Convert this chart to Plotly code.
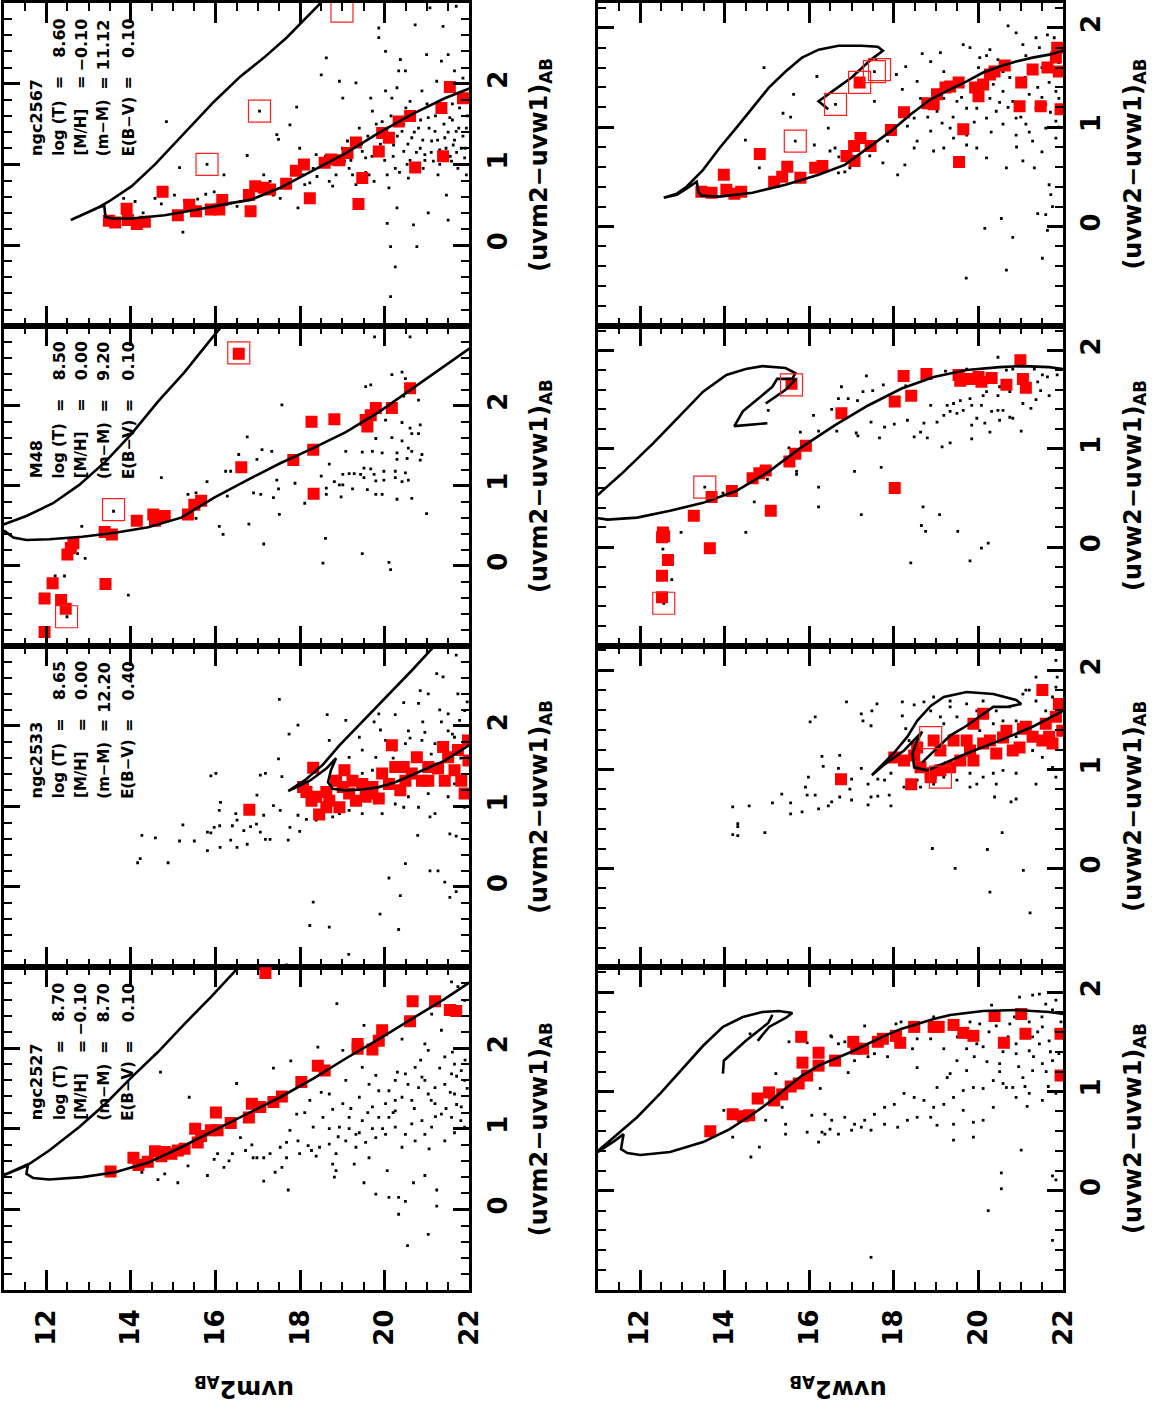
import plotly.graph_objects as go

W, H = 1167, 1409

# ---------------- text data ----------------
CLUSTERS = ["ngc2567", "M48", "ngc2533", "ngc2527"]
LOG_T = ["8.60", "8.50", "8.65", "8.70"]
MH = ["−0.10", "0.00", "0.00", "−0.10"]
DM = ["11.12", "9.20", "12.20", "8.70"]
EBV = ["0.10", "0.10", "0.40", "0.10"]
PAR_LABELS = ["log (T)", "[M/H]", "(m−M)", "E(B−V)"]
MAG_TICKS = [12, 14, 16, 18, 20, 22]
COLOR_TICKS = [0, 1, 2]
MAG_TITLES = ["uvm2<sub>AB</sub>", "uvw2<sub>AB</sub>"]
COLOR_TITLES = ["(uvm2−uvw1)<sub>AB</sub>", "(uvw2−uvw1)<sub>AB</sub>"]

# ---------------- ngc2567 (uvm2) ----------------
ngc2567_m2_iso = [(18.58,3.05),(18.15,2.82),(17.68,2.57),(17.14,2.32),(16.59,2.09),(15.97,1.78),(15.27,1.39),
    (14.57,1.00),(14.02,0.73),(13.48,0.54),(13.17,0.45),(12.85,0.37),(12.58,0.31),(12.85,0.37),(13.20,0.46),
    (13.37,0.49),(13.40,0.35),(13.55,0.33),(14.02,0.33),(14.80,0.37),(15.58,0.44),(16.36,0.52),(16.83,0.56),
    (17.53,0.71),(18.31,0.93),(19.08,1.14),(19.86,1.39),(20.64,1.62),(21.42,1.82),(22.0,1.94)]
ngc2567_m2_red = [(13.48,0.30),(13.63,0.28),(13.90,0.45),(13.93,0.31),(14.14,0.26),(14.33,0.29),(14.75,0.66),
    (15.11,0.37),(15.38,0.50),(15.54,0.42),(15.89,0.44),(16.16,0.56),(16.09,0.44),(16.83,0.42),(16.79,0.62),
    (16.94,0.73),(17.14,0.71),(17.29,0.69),(17.67,0.76),(17.90,0.92),(18.09,1.00),(18.23,0.58),(18.58,1.02),
    (18.73,1.06),(18.93,1.05),(19.12,1.14),(19.32,1.27),(19.47,0.83),(19.38,0.51),(19.86,1.16),(19.94,1.39),
    (20.10,1.33),(20.33,1.53),(20.60,1.60),(20.72,0.96),(21.34,1.70),(21.38,1.10),(21.54,1.96),(21.85,1.82)]
ngc2567_m2_open = [(15.80,1.00),(17.04,1.66),(18.99,2.90)]
ngc2567_m2_dots = [(14.84,1.53),(15.15,0.96),(15.23,0.16),(13.83,0.58),(14.10,0.54),(14.29,0.40),(14.57,0.58),
    (14.72,0.51),(15.03,0.62),(15.27,0.55),(15.58,0.57),(15.77,0.63),(15.97,0.66),(16.20,0.87),(16.36,0.52),
    (16.51,0.48),(16.75,1.11),(16.59,0.54),(16.98,0.77),(17.14,0.87),(17.29,0.79),(17.45,1.37),(17.49,1.31),
    (17.37,0.62),(17.53,0.58),(17.76,1.49),(17.92,1.71),(17.95,0.46),(17.99,1.20),(18.07,0.87),(18.11,0.75),
    (18.23,0.77),(18.31,0.95),(18.38,1.12),(18.50,2.11),(18.62,2.32),(18.69,0.79),(18.77,0.73),(18.85,0.87),
    (18.93,2.03),(19.01,1.82),(19.05,1.04),(19.12,1.29),(19.16,0.95),(19.24,0.87),(19.32,2.01),(19.32,0.75),
    (19.40,1.45),(19.47,1.16),(19.55,1.08),(19.63,0.87),(19.67,1.82),(19.71,1.66),(19.75,0.79),(19.86,2.69),
    (19.86,2.57),(19.94,1.53),(20.02,2.40),(20.02,1.91),(20.06,0.87),(20.06,0.27),(20.10,0.71),(20.14,-0.02),
    (20.14,-0.64),(20.17,1.82),(20.21,1.24),(20.25,0.95),(20.29,1.95),(20.29,0.46),(20.25,-0.27),(20.33,2.16),
    (20.37,2.30),(20.41,1.41),(20.45,1.16),(20.49,2.16),(20.53,1.00),(20.56,0.83),(20.60,1.78),(20.64,1.33),
    (20.68,0.25),(20.72,2.73),(20.76,-0.02),(20.80,1.45),(20.84,1.20),(20.88,1.91),(20.91,0.95),(20.95,1.12),
    (20.99,2.36),(21.03,0.40),(21.03,1.58),(21.07,2.94),(21.11,1.29),(21.15,1.04),(21.19,1.41),(21.23,2.03),
    (21.26,0.87),(21.30,1.18),(21.34,2.28),(21.38,2.71),(21.42,1.33),(21.46,0.62),(21.50,0.31),(21.50,2.36),
    (21.54,1.58),(21.58,1.04),(21.62,1.24),(21.65,2.16),(21.69,2.96),(21.69,1.41),(21.73,0.95),(21.77,1.70),
    (21.81,1.20),(21.85,2.07),(21.89,1.08),(21.93,1.45),(21.93,0.87),(21.96,1.82),
    (19.45,1.25),(19.60,1.35),(19.70,1.10),(19.80,1.50),(19.90,1.25),(20.00,1.05),(20.05,1.45),(20.20,1.10),
    (20.30,1.35),(20.35,0.90),(20.45,1.50),(20.55,1.25),(20.60,1.05),(20.70,1.40),(20.75,1.15),(20.85,1.55),
    (20.90,1.30),(20.95,1.05),(21.05,1.45),(21.10,1.15),(21.20,1.60),(21.25,1.30),(21.30,1.00),(21.40,1.50),
    (21.45,1.20),(21.50,1.40),(21.55,1.10),(21.60,1.55),(21.65,1.30),(21.70,1.15),(21.75,1.45),(21.80,1.00),
    (21.85,1.35),(21.90,1.20),(21.95,1.60),(19.20,1.05),(19.00,1.20),(18.80,1.00),(18.60,1.10),(18.40,0.85),
    (19.55,0.90),(20.15,1.60),(20.50,1.70),(21.00,1.75),(21.60,1.75),(15.80,1.00),(17.04,1.66)]

# ---------------- M48 (uvm2) ----------------
m48_m2_iso = [(16.30,3.05),(16.16,3.0),(15.89,2.83),(15.27,2.42),(14.64,2.05),(14.02,1.65),(13.40,1.30),
    (12.78,1.01),(12.16,0.78),(11.53,0.62),(11.02,0.52),(10.9,0.50),(10.9,0.42),(11.02,0.43),(11.22,0.35),
    (11.53,0.32),(12.07,0.33),(12.85,0.36),(13.63,0.41),(14.41,0.48),(15.19,0.60),(15.97,0.85),(16.75,1.07),
    (17.53,1.28),(18.31,1.47),(19.08,1.67),(19.86,1.92),(20.64,2.21),(21.42,2.50),(21.96,2.71),(22.12,2.76)]
m48_m2_red = [(11.96,-0.83),(11.96,-0.41),(12.15,-0.22),(12.35,-0.43),(12.46,-0.54),(12.50,0.14),(12.64,0.28),
    (12.58,0.22),(13.40,-0.23),(13.38,0.42),(13.55,0.39),(14.14,0.56),(14.53,0.64),(14.57,0.56),(14.80,0.62),
    (15.35,0.64),(15.50,0.76),(15.66,0.81),(16.55,2.65),(16.61,1.23),(17.84,1.32),(18.27,1.80),(18.31,1.45),
    (18.32,0.90),(18.81,1.83),(19.55,1.82),(19.59,1.74),(19.67,1.88),(19.79,1.97),(20.17,1.97),(20.60,2.22)]
m48_m2_open = [(16.55,2.66),(13.59,0.70),(12.48,-0.64)]
m48_m2_dots = [(19.76,2.86),(20.60,2.86),(20.41,2.42),(20.17,2.39),(20.49,2.34),(19.55,2.24),(19.67,2.26),
    (20.45,2.12),(20.80,2.07),(17.57,2.01),(16.75,1.61),(19.79,1.59),(20.17,1.60),(20.41,1.56),(20.60,1.72),
    (20.84,1.76),(20.80,1.65),(20.64,1.65),(20.02,1.82),(20.41,1.79),(17.10,1.45),(17.33,1.43),(16.55,1.39),
    (16.98,1.33),(19.08,1.43),(19.47,1.42),(19.71,1.43),(19.94,1.41),(20.29,1.41),(20.56,1.47),(20.88,1.39),
    (20.84,1.32),(20.53,1.34),(20.29,1.33),(16.24,1.18),(16.36,1.18),(18.69,1.27),(19.01,1.14),(19.16,1.15),
    (19.28,1.15),(19.51,1.22),(19.67,1.21),(19.43,1.14),(19.75,1.14),(19.98,1.18),(20.25,1.18),(20.49,1.16),
    (18.50,1.12),(18.81,1.05),(19.01,1.01),(19.51,1.10),(19.79,1.06),(19.98,1.07),(20.25,1.10),(20.56,1.07),
    (20.41,1.05),(14.72,1.10),(15.80,1.05),(17.45,1.07),(18.62,0.97),(18.93,1.01),(19.24,0.96),(19.59,0.95),
    (19.94,0.89),(19.79,0.89),(20.29,0.83),(20.64,0.84),(15.54,0.91),(15.35,0.89),(16.28,0.87),(16.90,0.91),
    (17.07,0.89),(17.37,0.85),(17.49,0.96),(18.97,0.86),(18.62,0.89),(20.99,0.65),(18.11,0.78),(17.51,0.64),
    (16.79,0.52),(16.09,0.49),(16.18,0.39),(15.54,0.59),(12.84,0.49),(12.74,0.15),(12.92,0.09),(17.14,0.27),
    (18.60,0.34),(19.47,0.15),(18.54,0.03),(20.10,0.04),(20.14,-0.05),(12.21,-0.13),(12.43,-0.13),
    (13.94,-0.37),(12.49,-0.64),(13.59,0.68),(17.88,1.03),(20.64,1.43),(16.55,2.66)]

# ---------------- ngc2533 (uvm2) ----------------
ngc2533_m2_iso = [(21.30,3.06),(21.15,2.98),(20.64,2.69),(20.10,2.40),(19.47,2.05),(18.93,1.76),(18.54,1.52),
    (18.15,1.34),(17.72,1.19),(18.23,1.32),(18.62,1.47),(18.85,1.60),(18.73,1.45),(18.66,1.30),(18.77,1.22),
    (19.08,1.20),(19.47,1.21),(19.86,1.24),(20.25,1.30),(20.64,1.39),(21.03,1.47),(21.42,1.57),(21.96,1.75),
    (22.12,1.80)]
ngc2533_m2_red = [(16.80,0.96),(18.45,0.90),(18.31,1.48),(18.15,1.18),(18.27,1.07),(18.38,1.12),(18.62,1.18),
    (18.69,1.07),(18.93,0.99),(19.05,1.45),(19.16,1.16),(19.32,1.07),(19.47,1.28),(19.63,1.16),(19.86,1.10),
    (19.94,1.41),(20.17,1.76),(20.25,1.49),(20.37,1.20),(20.49,1.32),(20.64,1.41),(20.76,1.61),(20.88,1.32),
    (21.03,1.49),(21.26,1.47),(21.38,1.74),(21.50,1.61),(21.65,1.45),(21.81,1.32),(21.89,1.16),(21.97,1.82),
    (21.73,1.70),(20.45,1.49),(20.10,1.28),(19.71,1.24),(19.24,1.32),(18.85,1.32),(19.01,1.24),(18.07,1.24),
    (19.55,1.12),(18.62,0.99),(21.03,1.32),(21.42,1.32),(21.98,1.57)]
ngc2533_m2_open = []
ngc2533_m2_dots = [(17.51,2.33),(17.95,2.01),(17.74,1.90),(17.49,1.59),(17.57,1.37),(17.18,1.41),(17.06,1.39),
    (15.89,1.38),(16.01,1.41),(18.64,2.14),(19.08,2.07),(18.69,1.82),(19.86,2.15),(19.75,2.05),(20.25,2.14),
    (20.45,2.29),(20.80,2.28),(20.84,2.44),(21.03,2.40),(21.23,2.65),(21.38,2.61),(21.69,2.88),(21.73,2.40),
    (21.89,2.19),(21.77,2.07),(20.56,1.94),(20.95,1.92),(21.34,2.05),(21.50,1.94),(21.65,1.86),(19.47,1.70),
    (19.79,1.61),(20.25,1.70),(20.88,1.82),(21.19,1.78),(20.49,1.78),(20.02,1.82),(19.40,1.86),(19.16,1.61),
    (19.47,1.41),(19.71,1.45),(20.56,1.12),(20.80,0.99),(21.03,1.16),(21.19,0.91),(21.50,1.12),(21.65,1.28),
    (21.89,0.99),(20.45,0.99),(20.25,1.03),(19.94,0.91),(19.47,0.91),(19.16,0.95),(18.93,0.91),(18.77,0.87),
    (18.38,0.83),(18.15,0.84),(17.95,0.89),(17.76,0.74),(17.99,0.69),(17.72,0.58),(17.53,0.95),(17.37,1.01),
    (17.14,0.89),(16.98,1.14),(16.97,0.78),(16.83,0.75),(16.67,0.70),(16.51,0.83),(16.48,0.91),(16.36,0.58),
    (16.40,0.76),(16.51,0.49),(16.12,1.05),(16.09,0.95),(16.10,0.76),(15.97,0.74),(15.81,0.68),(15.81,0.45),
    (15.50,0.57),(15.15,0.57),(15.23,0.77),(14.58,0.61),(14.26,0.64),(14.22,0.35),(14.16,0.30),(14.88,0.30),
    (17.29,0.59),(17.18,0.59),(17.06,0.68),(16.75,0.53),(16.11,0.49),(15.89,0.67),(20.78,0.64),(21.54,0.66),
    (21.69,0.63),(21.07,0.87),(21.07,0.20),(21.26,0.20),(20.49,0.29),(20.10,0.11),(20.37,-0.11),(21.42,0.06),
    (21.54,-0.13),(21.69,-0.06),(18.31,-0.19),(18.23,-0.48),(18.69,-0.50),(19.89,-0.34),(20.33,-0.53),
    (19.15,-0.84),(17.68,-0.97),(20.20,1.60),(20.60,1.85),(21.10,1.65),(21.60,1.90),(21.80,1.60),(20.90,2.05),
    (19.90,1.95),(21.30,2.20),(21.95,2.30),(21.50,2.15)]

# ---------------- ngc2527 (uvm2) ----------------
ngc2527_m2_iso = [(16.67,3.09),(16.51,2.98),(15.89,2.63),(15.27,2.30),(14.64,1.95),(14.02,1.64),(13.40,1.31),
    (12.78,1.02),(12.07,0.73),(11.53,0.54),(11.02,0.43),(10.9,0.40),(10.9,0.43),(11.06,0.44),(11.57,0.56),
    (11.53,0.44),(11.69,0.39),(12.07,0.37),(12.85,0.40),(13.63,0.46),(14.41,0.58),(15.19,0.77),(15.97,0.98),
    (16.75,1.18),(17.53,1.39),(18.31,1.62),(19.08,1.87),(19.86,2.11),(20.64,2.36),(21.42,2.61),(22.0,2.81),
    (22.12,2.85)]
ngc2527_m2_red = [(13.52,0.47),(14.06,0.64),(14.18,0.55),(14.40,0.59),(14.57,0.72),(14.72,0.66),(14.80,0.71),
    (14.96,0.69),(15.11,0.73),(15.27,0.75),(15.52,1.00),(15.58,0.83),(15.66,0.91),(15.89,0.98),(16.01,1.20),
    (16.05,0.98),(16.36,1.07),(16.79,1.14),(16.86,1.31),(17.06,1.27),(17.37,1.33),(17.57,1.40),(18.03,1.58),
    (18.42,1.78),(18.58,1.72),(19.36,2.05),(19.36,1.99),(19.71,1.98),(19.86,2.09),(19.94,2.22),(20.60,2.33),
    (20.66,2.58),(21.19,2.58),(21.54,2.47),(21.69,2.46),(17.18,2.93)]
ngc2527_m2_open = []
ngc2527_m2_dots = [(14.70,1.70),(15.38,1.39),(16.50,1.56),(17.37,1.75),(17.78,1.84),(18.87,2.55),(18.42,2.01),
    (19.01,1.97),(19.51,2.28),(20.41,2.11),(20.95,2.05),(21.03,1.97),(21.34,2.22),(21.11,2.42),(21.58,2.82),
    (21.73,2.76),(21.89,2.59),(21.42,1.89),(21.65,1.80),(21.81,1.72),(20.72,1.76),(20.49,1.68),(20.25,1.60),
    (20.10,1.47),(19.79,1.66),(19.47,1.76),(19.63,1.55),(19.08,1.60),(18.69,1.43),(18.50,1.45),(18.23,1.35),
    (18.11,1.20),(17.92,1.18),(17.76,0.98),(17.68,0.83),(17.95,0.85),(18.19,0.79),(18.31,1.02),(18.54,1.14),
    (18.77,1.24),(19.01,1.31),(19.16,1.14),(19.32,0.93),(19.47,1.10),(19.71,1.27),(19.86,1.14),(20.02,1.31),
    (20.25,1.22),(20.41,1.39),(20.64,1.35),(20.80,1.51),(21.03,1.43),(21.19,1.31),(21.42,1.55),(21.65,1.43),
    (21.81,1.27),(21.89,1.60),(21.89,1.02),(21.58,1.14),(21.34,1.18),(21.11,1.02),(20.88,1.10),(20.64,1.06),
    (20.49,0.93),(20.25,1.02),(20.02,0.93),(19.79,0.89),(19.55,0.83),(19.32,0.77),(19.08,0.85),(18.85,0.69),
    (18.69,0.81),(18.46,0.77),(18.38,0.66),(18.77,0.56),(19.28,0.56),(19.63,0.64),(20.06,0.48),(20.41,0.77),
    (20.72,0.85),(20.95,0.93),(21.42,0.85),(18.81,0.40),(18.85,0.48),(19.51,0.33),(19.79,0.19),(20.10,0.15),
    (20.33,0.15),(20.49,0.10),(20.68,0.33),(20.95,0.42),(21.23,0.24),(21.23,0.04),(20.33,-0.06),(21.03,-0.31),
    (20.54,-0.45),(18.27,0.73),(17.99,0.69),(17.68,0.64),(17.53,0.77),(17.29,0.69),(17.14,0.64),(16.98,0.64),
    (16.86,0.80),(16.71,0.73),(16.40,0.69),(16.32,0.60),(16.20,0.52),(16.05,0.69),(15.97,0.62),(15.81,0.42),
    (15.35,0.54),(15.11,0.33),(14.64,0.37),(14.80,0.44),(14.26,0.46),(17.14,0.35),(17.72,0.24),(17.41,0.46),
    (17.57,0.52),(16.59,0.89),(16.89,0.64),(18.69,1.00),(18.93,1.02),(19.16,1.00),(19.71,1.00),(20.10,1.14),
    (20.88,1.64),(21.19,1.51),(21.58,1.68),(19.86,1.47),(19.40,1.39),(20.25,1.35),
    (20.30,1.70),(20.55,1.55),(20.70,1.25),(20.95,1.60),(21.10,1.35),(21.30,1.75),(21.45,1.25),(21.55,1.45),
    (21.70,1.65),(21.80,1.10),(21.95,1.50),(21.70,1.30),(21.20,1.15),(20.85,1.85),(21.60,1.95),(21.90,1.85),
    (20.20,1.20),(19.95,1.00),(19.60,1.20),(19.40,0.95),(18.90,0.90),(19.20,1.25),(21.05,0.75),(21.65,0.95)]

# ---------------- ngc2567 (uvw2) ----------------
ngc2567_w2_iso = [(16.45,1.18),(16.22,1.26),(16.61,1.38),(17.00,1.50),(17.46,1.68),(17.74,1.77),(17.62,1.81),
    (17.23,1.82),(16.69,1.82),(16.22,1.78),(15.83,1.70),(15.44,1.56),(15.05,1.40),(14.66,1.19),(14.27,0.99),
    (13.88,0.79),(13.49,0.57),(13.10,0.40),(12.87,0.33),(12.56,0.29),(12.87,0.32),(13.10,0.38),(13.34,0.45),
    (13.38,0.35),(13.45,0.31),(13.88,0.30),(14.66,0.34),(15.44,0.42),(16.22,0.52),(16.84,0.62),(17.39,0.79),
    (17.93,0.96),(18.40,1.13),(18.87,1.28),(19.33,1.38),(19.72,1.46),(20.11,1.55),(20.50,1.61),(20.89,1.66),
    (21.28,1.70),(21.67,1.73),(22.0,1.77)]
ngc2567_w2_red = [(13.45,0.35),(13.69,0.34),(13.98,0.52),(14.04,0.37),(14.23,0.33),(14.39,0.35),(14.83,0.73),
    (15.17,0.45),(15.36,0.50),(15.48,0.60),(15.79,0.49),(16.14,0.59),(16.31,0.61),(16.88,0.71),(17.07,0.66),
    (17.06,0.81),(17.21,0.89),(17.45,0.81),(17.93,0.97),(18.24,1.15),(18.79,1.24),(18.94,1.23),(19.02,1.33),
    (19.22,1.40),(19.33,1.41),(19.53,1.45),(19.54,0.65),(19.64,0.98),(19.92,1.40),(20.00,1.31),(20.11,1.43),
    (20.27,1.53),(20.38,1.56),(20.62,1.62),(21.01,1.45),(20.97,1.21),(21.28,1.58),(21.47,1.21),(21.63,1.60),
    (21.83,1.70),(21.86,1.80),(21.90,1.56),(21.94,1.18),(17.19,1.45)]
ngc2567_w2_open = [(15.67,0.86),(16.62,1.23),(17.19,1.45),(17.54,1.56),(17.66,1.58)]
ngc2567_w2_dots = [(14.93,1.60),(14.49,0.87),(14.82,0.59),(15.38,1.14),(15.56,1.10),(15.63,1.33),(16.18,1.51),
    (16.12,0.82),(16.45,0.99),(16.49,0.76),(16.61,0.79),(16.70,0.70),(16.84,0.55),(16.69,0.54),(16.96,0.59),
    (17.54,1.26),(17.43,0.71),(17.74,0.64),(17.85,0.86),(17.58,1.68),(18.06,1.53),(18.28,1.61),(18.20,1.38),
    (18.32,1.01),(18.48,1.09),(18.55,1.46),(18.67,1.74),(18.87,1.66),(19.10,1.75),(19.18,1.56),(19.14,1.04),
    (19.33,0.99),(19.41,0.89),(19.72,0.92),(19.64,1.83),(19.80,1.80),(20.03,1.70),(20.19,1.72),(20.27,1.78),
    (20.46,1.68),(20.58,1.56),(20.70,2.02),(20.89,1.95),(21.05,1.83),(21.12,1.72),(21.36,1.90),(21.44,1.80),
    (21.63,1.93),(21.79,1.90),(21.83,1.80),(20.58,1.36),(20.81,1.26),(21.20,1.33),(21.40,1.40),(21.67,1.45),
    (21.83,1.36),(21.90,1.29),(19.96,1.19),(20.19,1.09),(20.42,1.16),(20.58,1.03),(20.89,1.09),(21.12,1.03),
    (21.28,0.86),(21.59,0.99),(21.83,1.06),(21.83,0.89),(20.66,0.59),(21.05,0.66),(21.32,0.59),(20.19,0.69),
    (19.96,0.79),(19.72,0.82),(19.18,0.79),(18.94,0.76),(18.55,0.86),(18.48,0.79),(18.87,0.96),(19.02,1.16),
    (19.49,1.26),(19.72,1.19),(20.27,1.29),(20.89,0.92),(21.67,0.42),(21.71,0.32),(21.75,0.20),(21.59,0.12),
    (21.40,0.13),(20.54,0.08),(20.15,-0.02),(20.81,-0.11),(21.51,-0.32),(20.66,-0.44),(19.71,-0.52),
    (21.63,-0.04),(18.09,0.52),(18.26,0.62),(18.63,1.29),(18.13,1.18),(19.18,1.29),(21.36,1.19),(21.59,1.23),
    (20.35,1.43),(20.74,1.50),(19.40,1.10),(19.90,1.05),(20.30,0.95),(20.70,1.20),(21.00,1.10),(21.20,0.95),
    (21.50,1.30),(21.70,1.15),(21.90,1.00),(20.00,1.60),(20.50,1.25),(21.10,1.50),(21.50,1.60),(21.90,1.65),
    (19.60,1.30),(18.80,1.10),(20.90,0.80),(21.50,0.75),(15.67,0.86),(16.62,1.23),(17.54,1.56)]

# ---------------- M48 (uvw2) ----------------
m48_w2_iso = [(10.92,0.51),(11.00,0.53),(11.55,0.74),(12.32,1.06),(12.95,1.34),(13.49,1.58),(14.04,1.75),
    (14.50,1.81),(14.89,1.84),(15.44,1.82),(15.67,1.77),(15.60,1.71),(15.24,1.71),(15.13,1.63),(14.74,1.49),
    (14.43,1.38),(14.23,1.23),(15.01,1.26),(None,None),(15.69,1.71),(15.44,1.60),(14.97,1.46),(None,None),
    (10.92,0.30),(11.23,0.28),(11.93,0.30),(12.71,0.37),(13.49,0.45),(14.27,0.57),(15.05,0.77),(15.83,1.02),
    (16.61,1.24),(17.39,1.44),(18.17,1.61),(18.94,1.73),(19.72,1.80),(20.50,1.83),(21.05,1.84),(21.67,1.83),
    (22.0,1.81)]
m48_w2_red = [(12.52,-0.51),(12.52,-0.29),(12.66,-0.13),(12.54,0.15),(12.57,0.11),(12.52,0.10),(13.27,0.32),
    (13.65,-0.01),(13.69,0.51),(14.17,0.57),(14.66,0.70),(14.82,0.75),(14.97,0.78),(15.09,0.37),(15.53,0.87),
    (15.67,0.95),(15.92,1.03),(15.58,1.66),(16.76,1.36),(18.02,1.48),(18.02,0.60),(18.23,1.74),(18.41,1.54),
    (18.77,1.76),(19.53,1.75),(19.57,1.69),(19.80,1.71),(20.00,1.73),(20.07,1.68),(20.31,1.72),(20.66,1.65),
    (20.99,1.90),(21.05,1.71),(21.12,1.62)]
m48_w2_open = [(15.58,1.65),(13.53,0.61),(12.56,-0.57)]
m48_w2_dots = [(20.46,1.93),(19.72,1.81),(19.22,1.79),(18.79,1.76),(20.66,1.80),(20.81,1.81),(21.32,1.81),
    (21.63,1.73),(21.40,1.68),(20.50,1.63),(20.19,1.58),(20.11,1.54),(20.46,1.54),(20.74,1.58),(21.47,1.59),
    (21.67,1.54),(21.36,1.50),(20.31,1.38),(20.46,1.39),(20.58,1.39),(20.07,1.44),(19.80,1.51),(19.84,1.44),
    (19.57,1.49),(19.41,1.46),(19.26,1.44),(19.33,1.38),(19.18,1.34),(19.02,1.27),(19.49,1.36),(19.64,1.39),
    (19.96,1.31),(19.84,1.24),(20.15,1.26),(20.74,1.32),(20.81,1.31),(21.01,1.18),(21.24,1.41),(20.27,1.17),
    (19.84,1.10),(19.33,1.06),(19.14,1.02),(18.79,1.11),(18.63,1.17),(18.48,1.12),(18.71,1.26),(18.87,1.44),
    (18.32,1.29),(18.28,1.64),(18.01,1.25),(17.78,1.22),(17.66,1.11),(17.46,1.27),(17.75,1.65),(17.50,1.59),
    (17.27,1.58),(17.35,1.74),(17.14,1.49),(16.76,1.63),(16.92,1.51),(16.69,1.51),(16.53,1.40),(16.65,1.18),
    (16.22,1.18),(16.10,1.34),(15.79,1.17),(15.52,1.01),(17.11,1.16),(17.15,1.13),(17.70,0.81),(17.07,0.77),
    (16.22,0.61),(16.22,0.41),(15.70,0.77),(15.70,0.74),(15.01,0.69),(14.70,0.46),(14.50,0.15),(13.96,0.55),
    (12.97,0.15),(12.54,-0.02),(12.75,-0.33),(12.56,-0.57),(17.23,0.33),(18.69,0.41),(19.08,0.33),(18.65,0.22),
    (18.75,0.16),(19.51,0.16),(20.23,0.04),(20.07,-0.01),(19.80,-0.14),(18.40,-0.16),(15.03,1.39),(20.50,1.29),
    (21.05,1.46),(21.51,1.75),(21.86,1.75),(13.53,0.61)]

# ---------------- ngc2533 (uvw2) ----------------
ngc2533_w2_iso = [(18.67,1.07),(18.79,1.12),(19.02,1.22),(19.33,1.34),(19.72,1.44),(20.11,1.56),(20.35,1.63),
    (20.66,1.63),(21.01,1.66),(20.89,1.70),(20.35,1.76),(19.72,1.78),(19.18,1.73),(18.87,1.64),(18.55,1.49),
    (18.32,1.33),(18.01,1.17),(17.48,0.94),(17.78,1.05),(18.24,1.19),(18.67,1.38),(18.55,1.29),(18.44,1.16),
    (18.48,1.02),(18.79,0.99),(19.18,1.06),(19.72,1.16),(20.50,1.29),(21.28,1.43),(22.0,1.59)]
ngc2533_w2_red = [(16.75,0.90),(18.41,0.85),(18.01,1.12),(18.24,1.09),(18.48,1.14),(18.63,1.02),(18.87,0.96),
    (18.87,0.92),(19.10,0.99),(19.33,1.02),(19.57,1.09),(19.80,1.19),(19.88,1.09),(20.11,1.26),(20.11,1.56),
    (20.27,1.29),(20.42,1.16),(20.58,1.32),(20.81,1.19),(20.97,1.22),(21.05,1.41),(21.28,1.33),(21.51,1.80),
    (21.59,1.46),(21.67,1.33),(21.83,1.53),(21.90,1.66),(21.98,1.39),(18.94,1.29),(19.10,1.19),(19.41,1.29),
    (19.72,1.29),(19.88,1.46),(18.55,1.22),(20.66,1.39),(21.12,1.43),(21.51,1.29),(21.75,1.26)]
ngc2533_w2_open = [(18.87,1.32),(19.10,0.92)]
ngc2533_w2_dots = [(16.88,1.68),(17.60,1.66),(17.48,1.59),(17.23,1.56),(17.27,1.49),(17.46,1.44),(16.14,1.53),
    (16.02,1.48),(18.20,1.68),(18.48,1.65),(18.71,1.68),(18.94,1.73),(18.20,1.54),(18.28,1.41),(18.36,1.29),
    (18.87,1.59),(19.10,1.53),(19.18,1.46),(19.33,1.63),(19.49,1.53),(19.72,1.66),(19.96,1.59),(20.11,1.69),
    (20.42,1.59),(20.58,1.49),(20.74,1.63),(20.89,1.49),(21.05,1.76),(21.20,1.80),(21.36,1.69),(21.59,1.59),
    (21.75,1.73),(21.83,1.83),(21.86,1.93),(21.83,2.10),(21.36,1.93),(21.12,1.80),(20.35,1.46),(20.03,1.39),
    (20.89,1.33),(21.28,1.19),(21.51,1.12),(21.75,1.02),(21.83,0.92),(21.36,0.85),(20.89,0.96),(20.58,0.99),
    (20.35,0.96),(20.11,0.92),(19.80,0.96),(19.49,0.89),(19.18,0.92),(18.94,0.85),(18.63,0.82),(18.24,0.82),
    (17.93,0.96),(17.78,0.89),(17.62,0.90),(17.39,0.85),(17.23,1.01),(17.00,0.90),(16.96,0.80),(16.72,1.14),
    (16.30,1.13),(16.33,1.03),(16.69,1.01),(16.72,0.72),(16.53,0.67),(16.45,0.63),(16.22,0.60),(15.83,0.57),
    (15.56,0.55),(15.56,0.66),(15.35,0.75),(15.13,0.66),(14.58,0.63),(14.19,0.62),(14.31,0.45),(14.31,0.42),
    (14.19,0.34),(14.31,0.33),(14.95,0.36),(15.95,0.74),(15.91,0.82),(15.98,0.92),(16.14,0.74),(17.00,0.69),
    (17.39,0.64),(17.46,0.72),(17.62,0.73),(17.89,0.74),(17.93,0.63),(18.55,0.89),(19.96,0.85),(20.42,0.85),
    (20.77,0.67),(20.89,0.70),(20.38,0.72),(19.80,0.82),(18.91,0.20),(20.21,0.19),(20.56,0.36),(19.45,0.00),
    (21.06,-0.02),(20.27,-0.24),(21.22,-0.45),(19.33,1.69)]

# ---------------- ngc2527 (uvw2) ----------------
ngc2527_w2_iso = [(14.78,1.51),(15.05,1.65),(15.44,1.74),(15.60,1.79),(15.28,1.81),(14.89,1.80),(14.43,1.75),
    (13.96,1.65),(13.49,1.46),(13.02,1.24),(12.48,0.98),(11.93,0.74),(11.39,0.54),(11.00,0.40),(10.88,0.38),
    (11.00,0.39),(11.39,0.50),(11.61,0.57),(11.55,0.42),(11.70,0.38),(12.01,0.36),(12.71,0.39),(13.49,0.49),
    (14.12,0.62),(14.66,0.77),(15.05,0.89),(15.44,1.03),(15.83,1.16),(16.22,1.26),(16.61,1.33),(17.00,1.40),
    (17.39,1.48),(17.78,1.56),(18.17,1.63),(18.55,1.68),(18.94,1.73),(19.33,1.77),(20.11,1.81),(20.89,1.82),
    (21.67,1.80),(22.0,1.78),(None,None),(15.13,1.77),(15.03,1.69),(14.50,1.51),(13.98,1.31),(13.96,1.18)]
ngc2527_w2_red = [(13.66,0.60),(14.19,0.77),(14.43,0.75),(14.58,0.76),(14.78,0.93),(15.05,0.99),(15.17,0.91),
    (15.36,0.97),(15.56,1.05),(15.75,1.08),(15.81,1.55),(15.84,1.29),(15.95,1.16),(16.22,1.39),(16.22,1.26),
    (16.61,1.31),(17.04,1.50),(17.11,1.43),(17.27,1.43),(17.62,1.50),(17.74,1.53),(18.05,1.56),(18.15,1.49),
    (18.48,1.65),(18.94,1.65),(19.06,1.65),(19.41,1.67),(19.64,1.59),(19.88,1.56),(20.38,1.76),(20.60,1.49),
    (21.01,1.78),(21.11,1.58),(21.94,1.58),(21.94,1.16)]
ngc2527_w2_open = []
ngc2527_w2_dots = [(14.60,1.58),(15.52,1.50),(15.95,1.49),(16.51,1.56),(16.53,1.55),(17.31,1.66),(18.05,1.68),
    (18.17,1.70),(18.94,1.75),(20.31,1.87),(20.97,1.95),(21.28,1.97),(21.44,1.98),(21.59,1.88),(21.75,1.82),
    (19.80,1.70),(20.03,1.68),(20.42,1.66),(20.74,1.68),(21.20,1.70),(21.51,1.65),(21.83,1.61),(21.67,1.51),
    (21.44,1.48),(21.20,1.41),(20.89,1.38),(20.58,1.40),(20.11,1.45),(19.96,1.48),(19.72,1.43),(19.49,1.31),
    (19.18,1.43),(18.87,1.53),(18.55,1.53),(18.44,1.43),(18.24,1.48),(17.85,1.35),(17.54,1.38),(17.39,1.35),
    (17.07,1.31),(16.92,1.19),(16.84,1.50),(16.69,1.48),(16.26,1.03),(16.06,0.76),(16.37,0.77),(16.53,0.71),
    (16.84,0.74),(17.07,0.67),(17.31,0.71),(17.54,0.77),(17.78,0.84),(18.01,0.87),(18.24,0.98),(18.48,0.94),
    (18.71,0.91),(18.94,0.84),(19.18,0.87),(19.41,0.94),(19.64,1.01),(19.88,1.04),(20.11,1.03),(20.35,1.11),
    (20.58,1.08),(20.81,1.04),(21.05,1.14),(21.28,1.21),(21.51,1.28),(21.75,1.31),(21.90,1.38),(21.83,0.98),
    (21.51,0.91),(21.20,0.98),(20.89,0.94),(20.66,1.04),(20.35,0.84),(20.11,0.71),(19.88,0.69),(19.64,0.81),
    (19.41,0.67),(19.02,0.66),(18.87,0.74),(18.55,0.74),(18.32,0.71),(18.09,0.64),(17.78,0.67),(17.46,0.61),
    (17.23,0.64),(17.00,0.61),(16.69,0.57),(16.37,0.57),(16.22,0.49),(15.95,0.59),(15.44,0.67),(15.36,0.84),
    (15.21,1.18),(14.97,0.71),(14.82,0.44),(14.62,0.34),(14.19,0.54),(13.98,0.81),(15.44,0.57),(16.30,0.59),
    (16.49,0.62),(19.41,0.51),(19.88,0.54),(21.01,0.41),(20.54,0.18),(20.54,0.02),(21.75,0.15),(21.83,0.11),
    (20.23,-0.20),(21.75,-0.50),(17.46,-0.67),(18.55,1.24),(19.33,1.18),(19.72,1.21),(20.50,1.28),(20.89,1.48),
    (21.28,1.55),(21.83,1.92),(19.02,1.04),(19.26,1.14),(20.20,1.30),(20.50,1.20),(20.70,1.55),(20.95,1.25),
    (21.10,1.05),(21.30,1.35),(21.40,1.60),(21.60,1.20),(21.70,1.40),(21.90,1.15),(21.95,1.70),(21.50,1.75),
    (20.85,1.75),(20.25,1.60),(19.90,1.35),(19.50,1.55),(21.15,0.85),(21.65,1.05)]

# ---------------- layout geometry ----------------
COL_PX = [(4, 475), (605, 1076)]
ROW_PX = [(2, 325), (325, 645), (645, 967), (967, 1290)]
COLOR_RANGE = [[-1, 3], [-1, 2.25]]
MAG_RANGE = [11, 22]

PANELS = [
    (0, 0, ngc2567_m2_dots, ngc2567_m2_red, ngc2567_m2_open, ngc2567_m2_iso),
    (1, 0, m48_m2_dots, m48_m2_red, m48_m2_open, m48_m2_iso),
    (2, 0, ngc2533_m2_dots, ngc2533_m2_red, ngc2533_m2_open, ngc2533_m2_iso),
    (3, 0, ngc2527_m2_dots, ngc2527_m2_red, ngc2527_m2_open, ngc2527_m2_iso),
    (0, 1, ngc2567_w2_dots, ngc2567_w2_red, ngc2567_w2_open, ngc2567_w2_iso),
    (1, 1, m48_w2_dots, m48_w2_red, m48_w2_open, m48_w2_iso),
    (2, 1, ngc2533_w2_dots, ngc2533_w2_red, ngc2533_w2_open, ngc2533_w2_iso),
    (3, 1, ngc2527_w2_dots, ngc2527_w2_red, ngc2527_w2_open, ngc2527_w2_iso),
]

FONT = "DejaVu Sans"


def unzip(pairs):
    return [p[0] for p in pairs], [p[1] for p in pairs]


fig = go.Figure()
layout = dict(width=W, height=H, margin=dict(l=0, r=0, t=0, b=0),
              paper_bgcolor="white", plot_bgcolor="white", showlegend=False)

for k, (r, c, dots, red, opn, iso) in enumerate(PANELS):
    n = k + 1
    xs = "x" if n == 1 else f"x{n}"
    ys = "y" if n == 1 else f"y{n}"
    xname = "xaxis" if n == 1 else f"xaxis{n}"
    yname = "yaxis" if n == 1 else f"yaxis{n}"

    dx, dy = unzip(dots)
    fig.add_trace(go.Scatter(x=dx, y=dy, mode="markers", xaxis=xs, yaxis=ys,
                             marker=dict(symbol="square", size=2.8, color="black", line=dict(width=0))))
    rx, ry = unzip(red)
    fig.add_trace(go.Scatter(x=rx, y=ry, mode="markers", xaxis=xs, yaxis=ys,
                             marker=dict(symbol="square", size=12, color="#ff0000", line=dict(width=0))))
    ix, iy = unzip(iso)
    fig.add_trace(go.Scatter(x=ix, y=iy, mode="lines", xaxis=xs, yaxis=ys,
                             line=dict(color="black", width=2.6), connectgaps=False))
    if opn:
        ox, oy = unzip(opn)
        fig.add_trace(go.Scatter(x=ox, y=oy, mode="markers", xaxis=xs, yaxis=ys,
                                 marker=dict(symbol="square-open", size=22, color="#ff2020",
                                             line=dict(width=1.2))))

    x0, x1 = COL_PX[c]
    y0, y1 = ROW_PX[r]
    layout[xname] = dict(
        domain=[x0 / W, x1 / W], range=MAG_RANGE, anchor=ys,
        showline=True, linecolor="black", linewidth=3, mirror="allticks",
        ticks="inside", ticklen=20, tickwidth=3, tickcolor="black",
        tickmode="array", tickvals=MAG_TICKS,
        minor=dict(tickmode="linear", tick0=0, dtick=0.5, ticks="inside", ticklen=8,
                   tickwidth=2, tickcolor="black", showgrid=False),
        showgrid=False, zeroline=False, showticklabels=(r == 3), tickangle=-90,
        ticklabelstandoff=6,
        tickfont=dict(family=FONT, size=26, color="black", weight="bold"))
    layout[yname] = dict(
        domain=[1 - y1 / H, 1 - y0 / H], range=COLOR_RANGE[c], anchor=xs, side="right",
        showline=True, linecolor="black", linewidth=3, mirror="allticks",
        ticks="inside", ticklen=16, tickwidth=3, tickcolor="black",
        tickmode="array", tickvals=COLOR_TICKS,
        minor=dict(tickmode="linear", tick0=0, dtick=0.2, ticks="inside", ticklen=8,
                   tickwidth=2, tickcolor="black", showgrid=False),
        showgrid=False, zeroline=False, tickangle=-90, ticklabelstandoff=3,
        tickfont=dict(family=FONT, size=26, color="black", weight="bold"))

annotations = []
lfont = dict(family=FONT, size=15, color="black", weight="bold")
vfont = dict(family=FONT, size=16, color="black", weight="bold")
# parameter blocks in the uvm2 column
for r in range(4):
    top = ROW_PX[r][0]
    annotations.append(dict(xref="paper", yref="paper", x=37 / W, y=1 - (top + 155) / H,
                            text=CLUSTERS[r], textangle=-90, showarrow=False,
                            xanchor="center", yanchor="bottom", font=vfont))
    vals = [LOG_T[r], MH[r], DM[r], EBV[r]]
    for j, xc in enumerate([60, 82, 105, 130]):
        annotations.append(dict(xref="paper", yref="paper", x=xc / W, y=1 - (top + 155) / H,
                                text=PAR_LABELS[j], textangle=-90, showarrow=False,
                                xanchor="center", yanchor="bottom", font=lfont))
        annotations.append(dict(xref="paper", yref="paper", x=xc / W, y=1 - (top + 80) / H,
                                text="=", textangle=-90, showarrow=False,
                                xanchor="center", yanchor="middle", font=vfont))
        annotations.append(dict(xref="paper", yref="paper", x=xc / W, y=1 - (top + 14) / H,
                                text=vals[j], textangle=-90, showarrow=False,
                                xanchor="center", yanchor="top", font=vfont))

# axis titles
afont = dict(family=FONT, size=24, color="black", weight="bold")
for c in range(2):
    x0, x1 = COL_PX[c]
    for r in range(4):
        y0, y1 = ROW_PX[r]
        annotations.append(dict(xref="paper", yref="paper", x=(x1 + 72) / W, y=1 - (y0 + y1) / 2 / H,
                                text=COLOR_TITLES[c], textangle=-90, showarrow=False,
                                xanchor="center", yanchor="middle", font=afont))
    annotations.append(dict(xref="paper", yref="paper", x=((x0 + x1) / 2 + 8) / W, y=1 - 1388 / H,
                            text=MAG_TITLES[c], textangle=180, showarrow=False,
                            xanchor="center", yanchor="middle", font=afont))

layout["annotations"] = annotations
fig.update_layout(**layout)
fig.write_html("out.html")
